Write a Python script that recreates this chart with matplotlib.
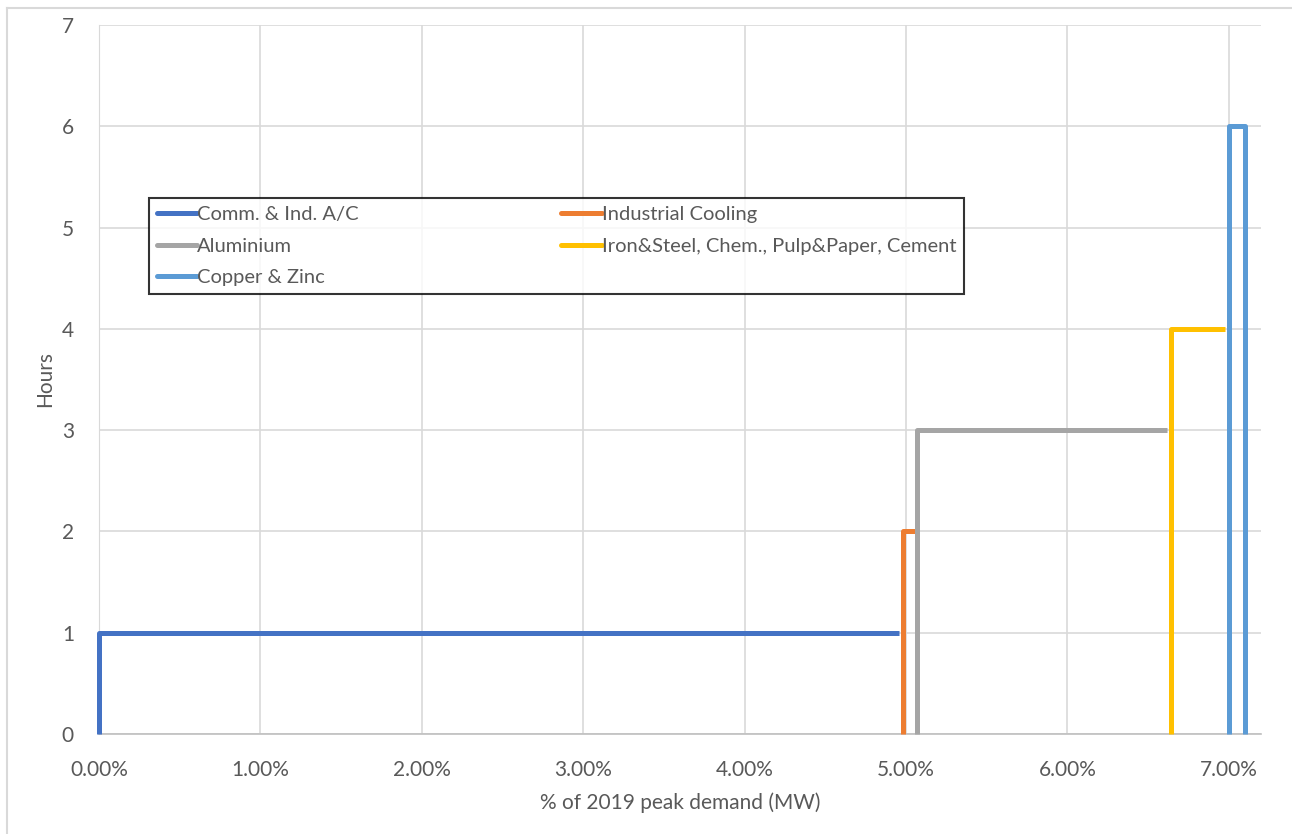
import matplotlib.pyplot as plt
from matplotlib.lines import Line2D
from matplotlib.ticker import PercentFormatter, MultipleLocator

plt.rcParams['font.family'] = ['Lato', 'DejaVu Sans']

# step outlines: share of 2019 peak demand vs hours
names = ["Comm. & Ind. A/C", "Industrial Cooling", "Aluminium",
         "Iron&Steel, Chem., Pulp&Paper, Cement", "Copper & Zinc"]
colors = ["#4472C4", "#ED7D31", "#A5A5A5", "#FFC000", "#5B9BD5"]

comm_x = [0.0, 0.0, 0.0496]
comm_y = [0, 1, 1]
cool_x = [0.0498, 0.0498, 0.0506]
cool_y = [0, 2, 2]
alu_x = [0.0507, 0.0507, 0.0662]
alu_y = [0, 3, 3]
iron_x = [0.0664, 0.0664, 0.0698]
iron_y = [0, 4, 4]
copper_x = [0.0700, 0.0700, 0.0710, 0.0710]
copper_y = [0, 6, 6, 0]

series = [(comm_x, comm_y), (cool_x, cool_y), (alu_x, alu_y),
          (iron_x, iron_y), (copper_x, copper_y)]

fig = plt.figure(figsize=(12.92, 8.34), dpi=100)
ax = fig.add_axes([99 / 1292, 1 - 734 / 834, (1261 - 99) / 1292, (734 - 25) / 834])

lines = []
for (x, y), name, c in zip(series, names, colors):
    l, = ax.plot(x, y, color=c, lw=3.6, label=name,
                 solid_joinstyle='round', solid_capstyle='butt', clip_on=False, zorder=3)
    lines.append(l)

ax.set_xlim(0, 0.072)
ax.set_ylim(0, 7)
ax.xaxis.set_major_locator(MultipleLocator(0.01))
ax.xaxis.set_major_formatter(PercentFormatter(xmax=1, decimals=2))
ax.yaxis.set_major_locator(MultipleLocator(1))
ax.grid(True, color='#D9D9D9', lw=1.2)
ax.set_axisbelow(True)
for s in ['top', 'right']:
    ax.spines[s].set_visible(False)
ax.spines['left'].set_color('#D9D9D9')
ax.spines['bottom'].set_color('#BFBFBF')
ax.spines['bottom'].set_linewidth(1.2)
ax.tick_params(length=0, labelsize=15, colors='#595959')
ax.tick_params(axis='x', pad=19)
ax.tick_params(axis='y', pad=18)

ax.set_xlabel('% of 2019 peak demand (MW)', fontsize=15, color='#595959', labelpad=9)
ax.set_ylabel('Hours', fontsize=15, color='#595959', labelpad=5)

# legend laid out row-wise like Excel
order = [0, 2, 4, 1, 3]
leg = ax.legend([lines[i] for i in order], [names[i] for i in order], ncol=2,
                loc='upper left', bbox_to_anchor=(50 / 1162, 1 - 173 / 709),
                borderaxespad=0, fontsize=14.5, frameon=True, fancybox=False,
                edgecolor='black', handlelength=2.0, handletextpad=0.0,
                columnspacing=10.05, labelspacing=0.72, borderpad=0.4,
                labelcolor='#595959')
leg.get_frame().set_linewidth(1.5)
for h in leg.legend_handles:
    h.set_solid_capstyle('round')

# chart-area border (top and left edges visible)
fig.add_artist(Line2D([7 / 1292, 1], [1 - 8 / 834, 1 - 8 / 834], transform=fig.transFigure,
                      color='#D9D9D9', lw=1.5))
fig.add_artist(Line2D([7 / 1292, 7 / 1292], [0, 1 - 8 / 834], transform=fig.transFigure,
                      color='#D9D9D9', lw=1.5))

fig.savefig('out.png', dpi=100)
